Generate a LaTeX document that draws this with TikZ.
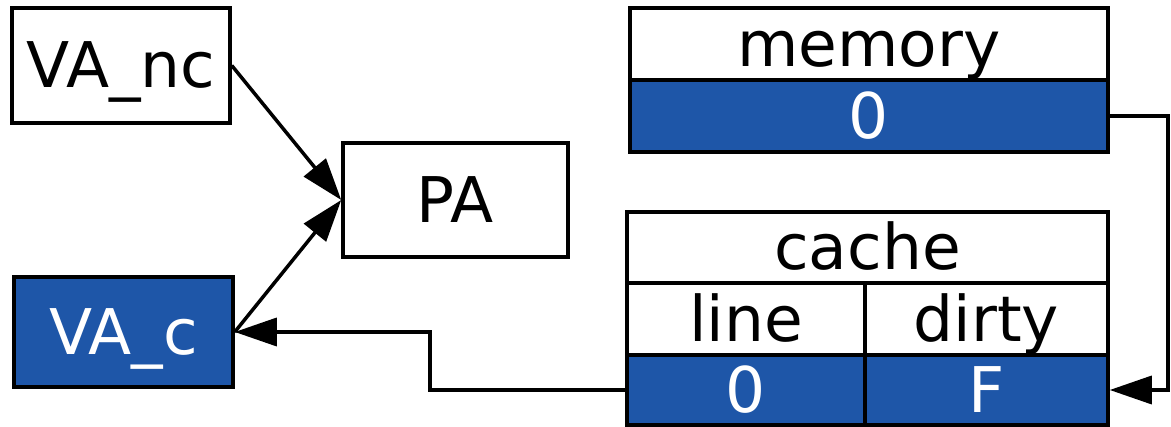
\documentclass[tikz,border=0pt]{standalone}
\usepackage{fontspec}
\setmainfont{DejaVu Sans}
\usetikzlibrary{arrows.meta}
\definecolor{cellblue}{RGB}{30,86,168}
\tikzset{
  cell/.style={draw=black, line width=3.5pt, inner sep=0pt,
    font=\fontsize{63pt}{70pt}\selectfont,
    text height=45pt, text depth=0pt},
  hot/.style={cell, fill=cellblue, text=white},
  link/.style={draw=black, line width=3.5pt,
    -{Triangle[length=42pt,width=28pt]}},
}
\begin{document}
\begin{tikzpicture}[x=1pt,y=-1pt]
\useasboundingbox (0,0) rectangle (1171,427);

% address boxes
\node[cell, minimum width=218pt, minimum height=115pt] (vanc) at (121,65.5) {VA\_nc};
\node[cell, minimum width=225pt, minimum height=114pt] (pa) at (455.5,200) {PA};
\node[hot, minimum width=219pt, minimum height=110pt] (vac) at (123.5,332) {VA\_c};

% memory table
\node[cell, minimum width=478pt, minimum height=72pt] (memhead) at (869,44) {memory};
\node[hot, minimum width=478pt, minimum height=72pt] (mem0) at (869,116) {0};

% cache table
\node[cell, minimum width=481pt, minimum height=71pt] (cachehead) at (867.5,247.5) {cache};
\node[cell, minimum width=238pt, minimum height=72pt] (linehead) at (746,319) {line};
\node[cell, minimum width=243pt, minimum height=72pt] (dirtyhead) at (986.5,319) {dirty};
\node[hot, minimum width=238pt, minimum height=70pt] (line0) at (746,390) {0};
\node[hot, minimum width=243pt, minimum height=70pt] (dirtyF) at (986.5,390) {F};

% routing columns for the elbow connectors
\coordinate (jog) at (430,0);
\coordinate (rail) at (1168,0);

% connectors
\draw[link] (vanc.east) -- (pa.west);
\draw[link] (vac.east) -- (pa.west);
\draw[link] (line0.west) -- (line0.west -| jog) |- (vac.east);
\draw[link] (mem0.east) -- (mem0.east -| rail) |- (dirtyF.east);
\end{tikzpicture}
\end{document}
